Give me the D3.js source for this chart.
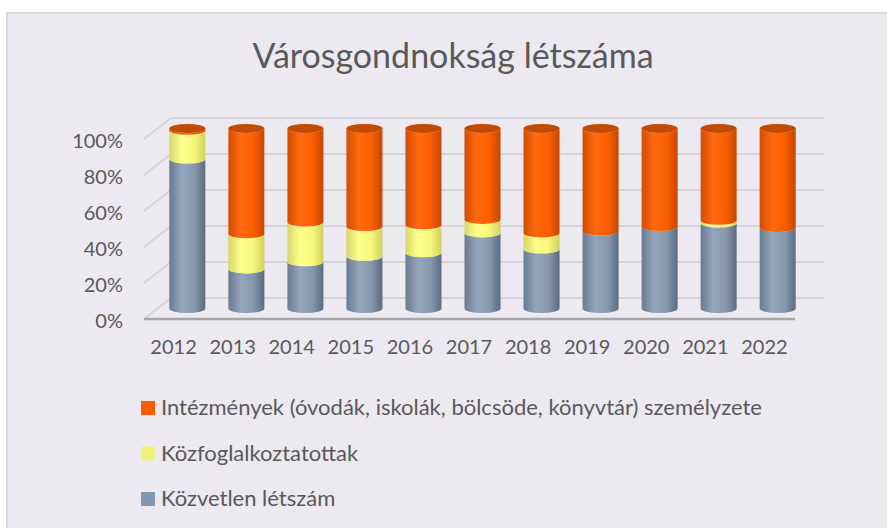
<!DOCTYPE html>
<html>
<head>
<meta charset="utf-8">
<script src="https://cdn.jsdelivr.net/npm/d3@7"></script>
<style>
  body { margin: 0; background: #ffffff; }
  text { font-family: Lato, "Open Sans", sans-serif; fill: #595959; }
</style>
</head>
<body>
<div id="chart"></div>
<script>
// Adatok (százalékos megoszlás)
const evek = ["2012", "2013", "2014", "2015", "2016", "2017", "2018", "2019", "2020", "2021", "2022"];
const kozvetlen = [83, 22, 26, 29, 31, 42, 33, 43, 45.5, 47.5, 45];
const kozfoglalkoztatottak = [16, 19.5, 22, 16.5, 15.5, 7.5, 9, 0, 0, 1.5, 0];
const intezmenyek = [1, 58.5, 52, 54.5, 53.5, 50.5, 58, 57, 54.5, 51, 55];
const sorozatNevek = ["Közvetlen létszám", "Közfoglalkoztatottak", "Intézmények (óvodák, iskolák, bölcsöde, könyvtár) személyzete"];
const yTicks = [0, 0.2, 0.4, 0.6, 0.8, 1];

const svgWidth = 887, svgHeight = 528;
const depth = { dx: 27, dy: -21 };

const datos = evek.map((ev, i) => ({
    ev: ev,
    kozvetlen: kozvetlen[i],
    kozfog: kozfoglalkoztatottak[i],
    intezmeny: intezmenyek[i]
}));
const keys = ["kozvetlen", "kozfog", "intezmeny"];

const svg = d3.select("#chart")
    .append("svg")
    .attr("width", svgWidth)
    .attr("height", svgHeight);

// Háttér
svg.append("rect")
    .attr("x", 7).attr("y", 13)
    .attr("width", 900).attr("height", 530)
    .attr("fill", "#ECE9F1")
    .attr("stroke", "#D9D9D9")
    .attr("stroke-width", 2);

// Skálák
const x = d3.scaleBand()
    .domain(evek)
    .range([144, 794])
    .paddingInner(0.39)
    .paddingOuter(0.2);

const xLabel = d3.scaleBand().domain(evek).range([144, 794]);

const y = d3.scaleLinear()
    .domain([0, 1])
    .range([319, 139]);

const color = d3.scaleOrdinal()
    .domain(keys)
    .range([
        ["#6a7b90", "#93a5bc", "#8798ae", "#5c6b7d"],
        ["#d6d66a", "#ffff8c", "#f7f77e", "#cfcf5c"],
        ["#d24d00", "#ff6a10", "#fb5e00", "#c44700"]
    ]);

const legendColor = d3.scaleOrdinal()
    .domain(keys)
    .range(["#8497B0", "#EEF17A", "#FF5B00"]);

// Színátmenetek a hengerekhez
const defs = svg.append("defs");
keys.forEach(k => {
    const c = color(k);
    const g = defs.append("linearGradient")
        .attr("id", "grad-" + k)
        .attr("x1", "0%").attr("x2", "100%").attr("y1", "0%").attr("y2", "0%");
    g.append("stop").attr("offset", "0%").attr("stop-color", c[0]);
    g.append("stop").attr("offset", "35%").attr("stop-color", c[1]);
    g.append("stop").attr("offset", "70%").attr("stop-color", c[2]);
    g.append("stop").attr("offset", "100%").attr("stop-color", c[3]);
});

// Hátfal rácsvonalai
const x0 = 144, x1 = 795;
svg.append("g")
    .selectAll("line.grid")
    .data(yTicks)
    .enter()
    .append("line")
    .attr("x1", x0 + depth.dx)
    .attr("x2", x1 + depth.dx + 2)
    .attr("y1", d => y(d) + depth.dy)
    .attr("y2", d => y(d) + depth.dy)
    .attr("stroke", "#D6D4DA")
    .attr("stroke-width", 2);

// Bal oldali átlós vonalak
svg.append("g")
    .selectAll("line.diag")
    .data(yTicks)
    .enter()
    .append("line")
    .attr("x1", x0)
    .attr("y1", d => y(d))
    .attr("x2", x0 + depth.dx)
    .attr("y2", d => y(d) + depth.dy)
    .attr("stroke", "#D6D4DA")
    .attr("stroke-width", 2);

// Padló elülső éle
svg.append("line")
    .attr("x1", x0).attr("x2", x1)
    .attr("y1", y(0)).attr("y2", y(0))
    .attr("stroke", "#A6A6A6")
    .attr("stroke-width", 2.5);

// Halmozott adatok (100%-ra normálva)
const stack = d3.stack()
    .keys(keys)
    .offset(d3.stackOffsetExpand);
const series = stack(datos);

const rx = x.bandwidth() / 2;
const ry = 4.5;
const offX = depth.dx / 2, offY = depth.dy / 2;

function segmentPath(cx, yTop, yBot) {
    const l = cx - rx, r = cx + rx;
    return `M${l},${yBot} A${rx},${ry} 0 0 0 ${r},${yBot} L${r},${yTop} A${rx},${ry} 0 0 1 ${l},${yTop} Z`;
}

const bars = svg.append("g");
series.forEach(s => {
    bars.selectAll(".seg-" + s.key)
        .data(s.filter(d => d[1] - d[0] > 0))
        .enter()
        .append("path")
        .attr("d", d => {
            const cx = x(d.data.ev) + rx + offX;
            return segmentPath(cx, y(d[1]) + offY, y(d[0]) + offY);
        })
        .attr("fill", "url(#grad-" + s.key + ")");
});

// Henger tetők
bars.selectAll(".cap")
    .data(datos)
    .enter()
    .append("ellipse")
    .attr("cx", d => x(d.ev) + rx + offX)
    .attr("cy", y(1) + offY)
    .attr("rx", rx)
    .attr("ry", ry)
    .attr("fill", "#C34A00");

// Tengelyek
const yAxis = svg.append("g")
    .attr("transform", "translate(123,0)")
    .call(d3.axisLeft(y).tickValues(yTicks).tickFormat(d3.format(".0%")).tickSize(0).tickPadding(0));
yAxis.select(".domain").remove();
yAxis.selectAll("text")
    .attr("dy", "0.4em")
    .style("font-size", "20px")
    .style("font-family", "Lato, sans-serif")
    .attr("fill", "#595959");

const xAxis = svg.append("g")
    .attr("transform", "translate(0,338)")
    .call(d3.axisBottom(xLabel).tickSize(0).tickPadding(0));
xAxis.select(".domain").remove();
xAxis.selectAll("text")
    .attr("dy", "0.8em")
    .style("font-size", "20px")
    .style("font-family", "Lato, sans-serif")
    .attr("fill", "#595959");

// Cím
svg.append("text")
    .attr("x", 453)
    .attr("y", 68)
    .attr("text-anchor", "middle")
    .style("font-size", "34px")
    .text("Városgondnokság létszáma");

// Jelmagyarázat
const legendOrder = ["intezmeny", "kozfog", "kozvetlen"];
const legendNames = [sorozatNevek[2], sorozatNevek[1], sorozatNevek[0]];
const legend = svg.append("g").attr("transform", "translate(141,401)");
legendOrder.forEach((k, i) => {
    legend.append("rect")
        .attr("x", 0).attr("y", i * 45.5)
        .attr("width", 14).attr("height", 14)
        .attr("fill", legendColor(k));
    legend.append("text")
        .attr("x", 20).attr("y", i * 45.5 + 14)
        .style("font-size", "22px")
        .text(legendNames[i]);
});
</script>
</body>
</html>
